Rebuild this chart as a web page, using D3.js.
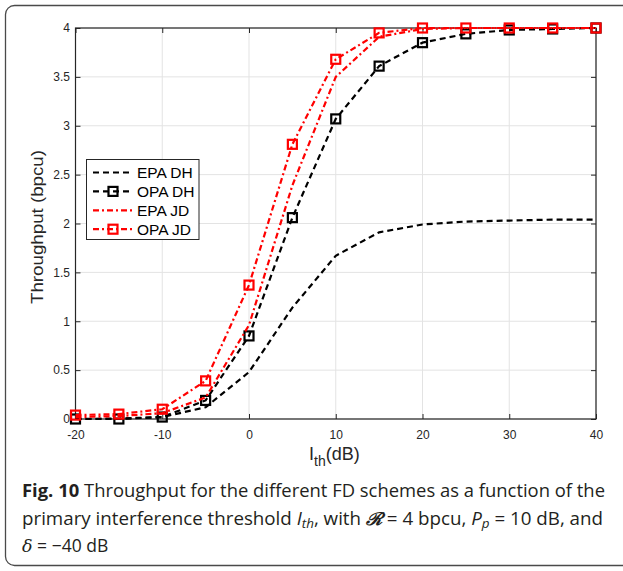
<!DOCTYPE html>
<html><head><meta charset="utf-8">
<script src="https://cdn.jsdelivr.net/npm/d3@7"></script>
<style>
html,body{margin:0;padding:0;background:#fff;}
svg{display:block;}
</style></head>
<body>
<svg id="c" width="623" height="571"></svg>
<script>
// ---- data ----
const xValues = [-20, -15, -10, -5, 0, 5, 10, 15, 20, 25, 30, 35, 40];
const epaDH = [0.0, 0.005, 0.02, 0.12, 0.48, 1.14, 1.67, 1.91, 1.99, 2.02, 2.03, 2.04, 2.04];
const opaDH = [0.0, 0.0, 0.02, 0.19, 0.85, 2.06, 3.07, 3.61, 3.85, 3.94, 3.98, 3.99, 4.0];
const epaJD = [0.02, 0.03, 0.06, 0.22, 0.96, 2.39, 3.5, 3.91, 3.99, 4.0, 4.0, 4.0, 4.0];
const opaJD = [0.04, 0.05, 0.1, 0.39, 1.37, 2.81, 3.68, 3.95, 4.0, 4.0, 4.0, 4.0, 4.0];
const seriesNames = ["EPA DH", "OPA DH", "EPA JD", "OPA JD"];
const xTicks = [-20, -10, 0, 10, 20, 30, 40];
const yTicks = [0, 0.5, 1, 1.5, 2, 2.5, 3, 3.5, 4];

const svg = d3.select("#c");
const font = "'Liberation Sans', Arial, sans-serif";

// figure frame
svg.append("rect").attr("x", 5.5).attr("y", 5.5).attr("width", 660).attr("height", 560)
  .attr("rx", 9).attr("fill", "none").attr("stroke", "#4a4a4a").attr("stroke-width", 1.3);

const x = d3.scaleLinear().domain([-20, 40]).range([75.5, 596]);
const y = d3.scaleLinear().domain([0, 4]).range([419, 28]);

// grid
const g = svg.append("g");
g.selectAll(".gx").data(xTicks).join("line")
  .attr("x1", d => x(d)).attr("x2", d => x(d)).attr("y1", y(0)).attr("y2", y(4))
  .attr("stroke", "#e3e3e3").attr("stroke-width", 1);
g.selectAll(".gy").data(yTicks).join("line")
  .attr("x1", x(-20)).attr("x2", x(40)).attr("y1", d => y(d)).attr("y2", d => y(d))
  .attr("stroke", "#e3e3e3").attr("stroke-width", 1);

// axes
const axCol = "#262626";
function styleAxis(sel, showLabels) {
  sel.select(".domain").remove();
  sel.selectAll(".tick line").attr("stroke", axCol).attr("stroke-width", 1);
  sel.selectAll(".tick text").attr("fill", axCol).style("font-family", font).style("font-size", "12px");
  if (!showLabels) sel.selectAll(".tick text").remove();
}
const fmt = d => String(d);
const xb = svg.append("g").attr("transform", `translate(0,${y(0)})`)
  .call(d3.axisBottom(x).tickValues(xTicks).tickSize(-5).tickPadding(11).tickFormat(fmt));
styleAxis(xb, true);
const xt = svg.append("g").attr("transform", `translate(0,${y(4)})`)
  .call(d3.axisTop(x).tickValues(xTicks).tickSize(-5));
styleAxis(xt, false);
const yl = svg.append("g").attr("transform", `translate(${x(-20)},0)`)
  .call(d3.axisLeft(y).tickValues(yTicks).tickSize(-5).tickPadding(5.5).tickFormat(fmt));
styleAxis(yl, true);
const yr = svg.append("g").attr("transform", `translate(${x(40)},0)`)
  .call(d3.axisRight(y).tickValues(yTicks).tickSize(-5));
styleAxis(yr, false);

// box
svg.append("rect").attr("x", x(-20)).attr("y", y(4)).attr("width", x(40) - x(-20)).attr("height", y(0) - y(4))
  .attr("fill", "none").attr("stroke", axCol).attr("stroke-width", 1.2);

// series
const dashStyle = "6,4";
const dashDot = "6,3,2,3";
const series = [
  {name: seriesNames[0], vals: epaDH, color: "#000", dash: dashStyle, marker: false},
  {name: seriesNames[1], vals: opaDH, color: "#000", dash: dashStyle, marker: true},
  {name: seriesNames[2], vals: epaJD, color: "#ff0000", dash: dashDot, marker: false},
  {name: seriesNames[3], vals: opaJD, color: "#ff0000", dash: dashDot, marker: true}
];
const line = d3.line().x(d => x(d[0])).y(d => y(d[1]));
const sqSize = 9;
series.forEach(s => {
  const pts = xValues.map((xv, i) => [xv, s.vals[i]]);
  svg.append("path").datum(pts).attr("d", line).attr("fill", "none")
    .attr("stroke", s.color).attr("stroke-width", 2.2).attr("stroke-dasharray", s.dash);
  if (s.marker) {
    svg.append("g").selectAll("rect").data(pts).join("rect")
      .attr("x", d => x(d[0]) - sqSize / 2).attr("y", d => y(d[1]) - sqSize / 2)
      .attr("width", sqSize).attr("height", sqSize)
      .attr("fill", "none").attr("stroke", s.color).attr("stroke-width", 2.2);
  }
});

// legend
const lg = svg.append("g");
lg.append("rect").attr("x", 86.5).attr("y", 159.5).attr("width", 112.5).attr("height", 80)
  .attr("fill", "#fff").attr("stroke", axCol).attr("stroke-width", 1);
series.forEach((s, i) => {
  const cy = 172.5 + i * 18.9;
  lg.append("line").attr("x1", 93).attr("x2", 133).attr("y1", cy).attr("y2", cy)
    .attr("stroke", s.color).attr("stroke-width", 2.2).attr("stroke-dasharray", s.dash);
  if (s.marker) {
    lg.append("rect").attr("x", 113 - sqSize / 2).attr("y", cy - sqSize / 2)
      .attr("width", sqSize).attr("height", sqSize).attr("fill", "none")
      .attr("stroke", s.color).attr("stroke-width", 2.2);
  }
  lg.append("text").attr("x", 137).attr("y", cy + 5.5).text(s.name)
    .style("font-family", font).style("font-size", "15.5px").attr("fill", "#000");
});

// axis labels
svg.append("text").attr("transform", "translate(43,227) rotate(-90)").attr("text-anchor", "middle")
  .attr("textLength", 154).attr("lengthAdjust", "spacingAndGlyphs")
  .style("font-family", font).style("font-size", "16px").attr("fill", axCol).text("Throughput (bpcu)");
const xlab = svg.append("text").attr("x", 309).attr("y", 460)
  .style("font-family", font).style("font-size", "18px").attr("fill", axCol);
xlab.append("tspan").text("I");
xlab.append("tspan").attr("dy", 6).style("font-size", "14px").text("th");
xlab.append("tspan").attr("dy", -6).text("(dB)");

// caption
const cf = "'Open Sans', 'Noto Sans', sans-serif";
const cap = svg.append("g").style("font-family", cf).style("font-size", "17.5px").attr("fill", "#231f20");
const l1 = cap.append("text").attr("x", 22).attr("y", 497)
  .attr("textLength", 583).attr("lengthAdjust", "spacingAndGlyphs");
l1.append("tspan").style("font-weight", "bold").text("Fig. 10");
l1.append("tspan").text(" Throughput for the different FD schemes as a function of the");
const l2 = cap.append("text").attr("x", 22).attr("y", 525)
  .attr("textLength", 581).attr("lengthAdjust", "spacingAndGlyphs");
l2.append("tspan").text("primary interference threshold ");
l2.append("tspan").style("font-style", "italic").text("I");
l2.append("tspan").style("font-style", "italic").attr("dy", 3).style("font-size", "12.5px").text("th");
l2.append("tspan").attr("dy", -3).text(", with ");
l2.append("tspan").style("font-weight", "bold").style("font-family", "'DejaVu Serif', serif").style("font-style", "italic").text("ℛ");
l2.append("tspan").text(" = 4 bpcu, ");
l2.append("tspan").style("font-style", "italic").text("P");
l2.append("tspan").style("font-style", "italic").attr("dy", 3).style("font-size", "12.5px").text("p");
l2.append("tspan").attr("dy", -3).text(" = 10 dB, and");
const l3 = cap.append("text").attr("x", 22).attr("y", 552);
l3.append("tspan").style("font-style", "italic").style("font-family", "'DejaVu Serif', serif").text("δ");
l3.append("tspan").text(" = −40 dB");
</script>
</body></html>
